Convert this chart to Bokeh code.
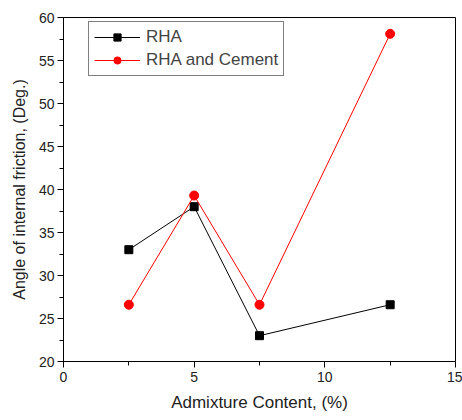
from bokeh.plotting import figure
from bokeh.embed import file_html
from bokeh.resources import INLINE
from bokeh.models import Range1d, FixedTicker

x_vals = [2.5, 5, 7.5, 12.5]
rha = [33.0, 38.0, 23.0, 26.6]
rha_cement = [26.6, 39.3, 26.6, 58.1]
x_ticks = [0, 5, 10, 15]
y_ticks = [20, 25, 30, 35, 40, 45, 50, 55, 60]

FONT = "Liberation Sans"

p = figure(width=462, height=420, output_backend="svg", toolbar_location=None,
           x_range=Range1d(0, 15), y_range=Range1d(20, 60),
           min_border_left=63, min_border_right=7, min_border_top=17, min_border_bottom=59)
p.xgrid.visible = False
p.ygrid.visible = False
p.outline_line_color = "black"
p.outline_line_width = 1
p.background_fill_color = "white"
p.border_fill_color = "white"

p.line(x_vals, rha, color="black", line_width=1, legend_label="RHA")
p.scatter(x_vals, rha, marker="square", size=8, color="black", legend_label="RHA")
p.line(x_vals, rha_cement, color="red", line_width=1, legend_label="RHA and Cement")
p.scatter(x_vals, rha_cement, marker="circle", size=9, color="red", legend_label="RHA and Cement")

for ax, ticks in ((p.xaxis[0], x_ticks), (p.yaxis[0], y_ticks)):
    ax.ticker = FixedTicker(ticks=ticks, minor_ticks=[t + 2.5 for t in ticks[:-1]])
    ax.major_tick_in = 0
    ax.major_tick_out = 6
    ax.minor_tick_in = 0
    ax.minor_tick_out = 4
    ax.axis_line_color = "black"
    ax.major_tick_line_color = "black"
    ax.minor_tick_line_color = "black"
    ax.major_label_text_font = FONT
    ax.major_label_text_font_size = "14px"
    ax.major_label_text_color = "#222222"
    ax.axis_label_text_font = FONT
    ax.axis_label_text_font_style = "normal"
    ax.axis_label_text_color = "#222222"

p.xaxis[0].axis_label = "Admixture Content, (%)"
p.yaxis[0].axis_label = "Angle of internal friction, (Deg.)"
p.xaxis[0].axis_label_text_font_size = "17px"
p.yaxis[0].axis_label_text_font_size = "16px"
p.xaxis[0].major_label_standoff = 4
p.yaxis[0].major_label_standoff = 3
p.xaxis[0].axis_label_standoff = 8
p.yaxis[0].axis_label_standoff = 8

lg = p.legend[0]
lg.location = (25, 285)
lg.border_line_color = "black"
lg.border_line_width = 1
lg.label_text_font = FONT
lg.label_text_font_size = "17px"
lg.glyph_width = 46
lg.glyph_height = 18
lg.label_height = 18
lg.spacing = 3
lg.padding = 5
lg.margin = 0
lg.label_standoff = 6
lg.background_fill_alpha = 1

open("out.html", "w").write(file_html(p, INLINE))
